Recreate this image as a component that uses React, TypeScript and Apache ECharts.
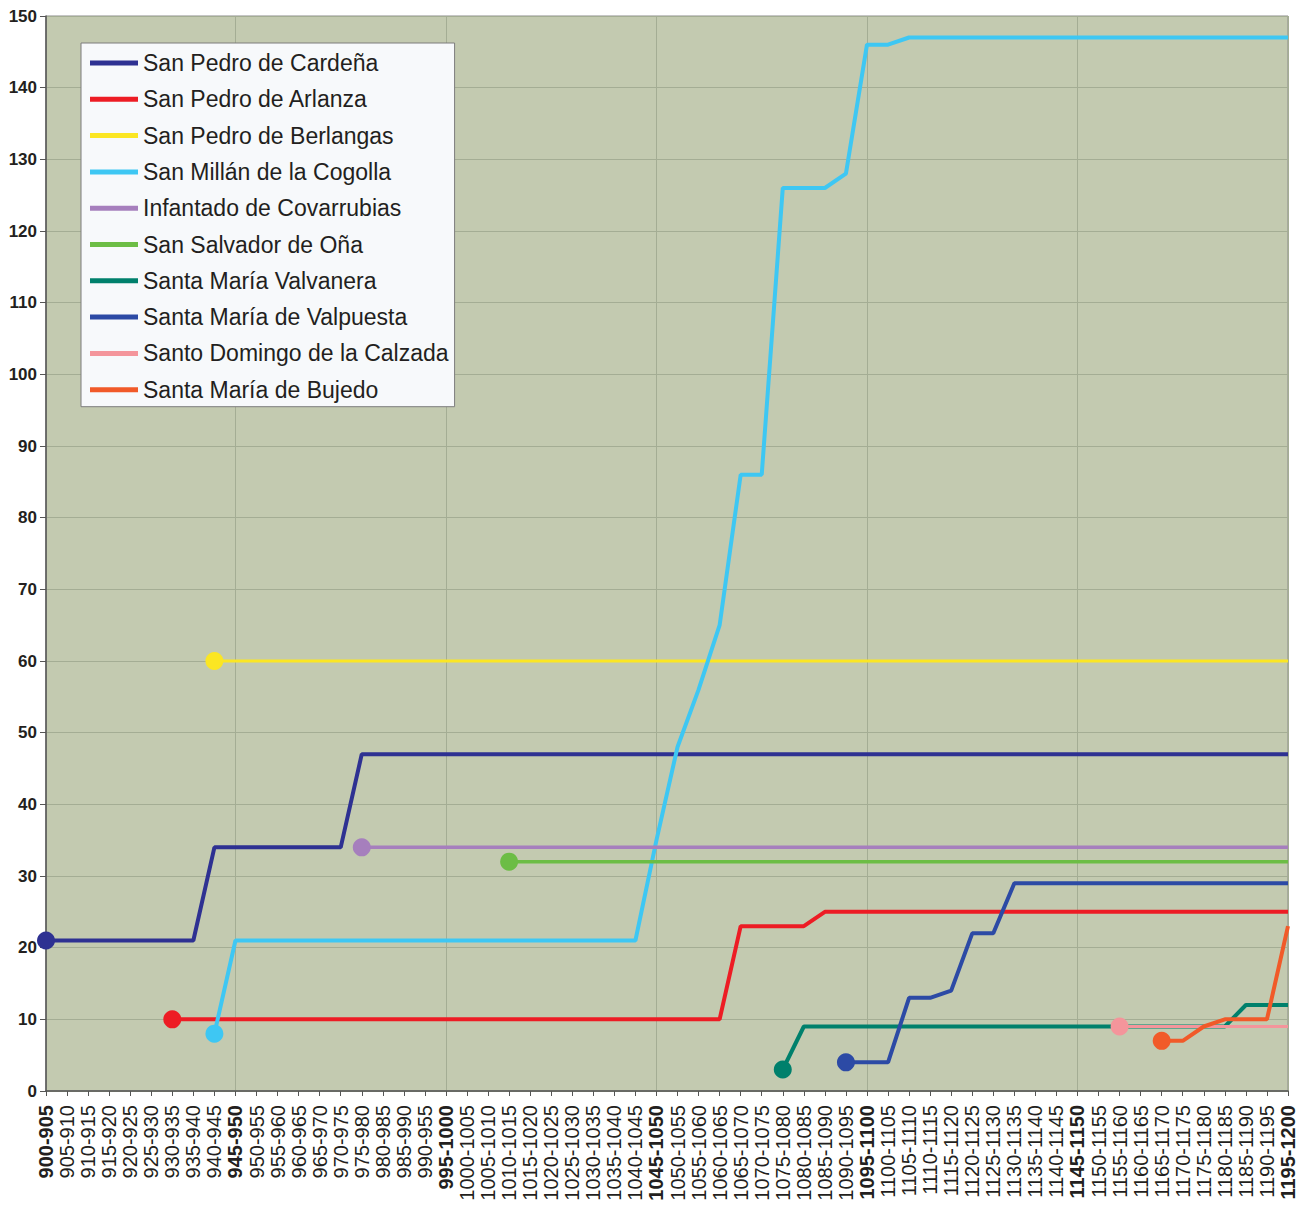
import React, { useEffect, useRef } from "react";
import * as echarts from "echarts";

const categories: string[] = [
  "900-905", "905-910", "910-915", "915-920", "920-925", "925-930", "930-935", "935-940", "940-945", "945-950",
  "950-955", "955-960", "960-965", "965-970", "970-975", "975-980", "980-985", "985-990", "990-955", "995-1000",
  "1000-1005", "1005-1010", "1010-1015", "1015-1020", "1020-1025", "1025-1030", "1030-1035", "1035-1040", "1040-1045", "1045-1050",
  "1050-1055", "1055-1060", "1060-1065", "1065-1070", "1070-1075", "1075-1080", "1080-1085", "1085-1090", "1090-1095", "1095-1100",
  "1100-1105", "1105-1110", "1110-1115", "1115-1120", "1120-1125", "1125-1130", "1130-1135", "1135-1140", "1140-1145", "1145-1150",
  "1150-1155", "1155-1160", "1160-1165", "1165-1170", "1170-1175", "1175-1180", "1180-1185", "1185-1190", "1190-1195", "1195-1200",
];

const boldLabels: string[] = ["900-905", "945-950", "995-1000", "1045-1050", "1095-1100", "1145-1150", "1195-1200"];
const gridLabels: string[] = ["945-950", "995-1000", "1045-1050", "1095-1100", "1145-1150", "1195-1200"];

const _ = null;

const cardena = [
  21, 21, 21, 21, 21, 21, 21, 21, 34, 34, 34, 34, 34, 34, 34,
  47, 47, 47, 47, 47, 47, 47, 47, 47, 47, 47, 47, 47, 47, 47,
  47, 47, 47, 47, 47, 47, 47, 47, 47, 47, 47, 47, 47, 47, 47,
  47, 47, 47, 47, 47, 47, 47, 47, 47, 47, 47, 47, 47, 47, 47,
];
const arlanza = [
  _, _, _, _, _, _, 10, 10, 10, 10, 10, 10, 10, 10, 10,
  10, 10, 10, 10, 10, 10, 10, 10, 10, 10, 10, 10, 10, 10, 10,
  10, 10, 10, 23, 23, 23, 23, 25, 25, 25, 25, 25, 25, 25, 25,
  25, 25, 25, 25, 25, 25, 25, 25, 25, 25, 25, 25, 25, 25, 25,
];
const berlangas = [
  _, _, _, _, _, _, _, _, 60, 60, 60, 60, 60, 60, 60,
  60, 60, 60, 60, 60, 60, 60, 60, 60, 60, 60, 60, 60, 60, 60,
  60, 60, 60, 60, 60, 60, 60, 60, 60, 60, 60, 60, 60, 60, 60,
  60, 60, 60, 60, 60, 60, 60, 60, 60, 60, 60, 60, 60, 60, 60,
];
const cogolla = [
  _, _, _, _, _, _, _, _, 8, 21, 21, 21, 21, 21, 21,
  21, 21, 21, 21, 21, 21, 21, 21, 21, 21, 21, 21, 21, 21, 35,
  48, 56, 65, 86, 86, 126, 126, 126, 128, 146, 146, 147, 147, 147, 147,
  147, 147, 147, 147, 147, 147, 147, 147, 147, 147, 147, 147, 147, 147, 147,
];
const covarrubias = [
  _, _, _, _, _, _, _, _, _, _, _, _, _, _, _,
  34, 34, 34, 34, 34, 34, 34, 34, 34, 34, 34, 34, 34, 34, 34,
  34, 34, 34, 34, 34, 34, 34, 34, 34, 34, 34, 34, 34, 34, 34,
  34, 34, 34, 34, 34, 34, 34, 34, 34, 34, 34, 34, 34, 34, 34,
];
const ona = [
  _, _, _, _, _, _, _, _, _, _, _, _, _, _, _,
  _, _, _, _, _, _, _, 32, 32, 32, 32, 32, 32, 32, 32,
  32, 32, 32, 32, 32, 32, 32, 32, 32, 32, 32, 32, 32, 32, 32,
  32, 32, 32, 32, 32, 32, 32, 32, 32, 32, 32, 32, 32, 32, 32,
];
const valvanera = [
  _, _, _, _, _, _, _, _, _, _, _, _, _, _, _,
  _, _, _, _, _, _, _, _, _, _, _, _, _, _, _,
  _, _, _, _, _, 3, 9, 9, 9, 9, 9, 9, 9, 9, 9,
  9, 9, 9, 9, 9, 9, 9, 9, 9, 9, 9, 9, 12, 12, 12,
];
const valpuesta = [
  _, _, _, _, _, _, _, _, _, _, _, _, _, _, _,
  _, _, _, _, _, _, _, _, _, _, _, _, _, _, _,
  _, _, _, _, _, _, _, _, 4, 4, 4, 13, 13, 14, 22,
  22, 29, 29, 29, 29, 29, 29, 29, 29, 29, 29, 29, 29, 29, 29,
];
const calzada = [
  _, _, _, _, _, _, _, _, _, _, _, _, _, _, _,
  _, _, _, _, _, _, _, _, _, _, _, _, _, _, _,
  _, _, _, _, _, _, _, _, _, _, _, _, _, _, _,
  _, _, _, _, _, _, 9, 9, 9, 9, 9, 9, 9, 9, 9,
];
const bujedo = [
  _, _, _, _, _, _, _, _, _, _, _, _, _, _, _,
  _, _, _, _, _, _, _, _, _, _, _, _, _, _, _,
  _, _, _, _, _, _, _, _, _, _, _, _, _, _, _,
  _, _, _, _, _, _, _, _, 7, 7, 9, 10, 10, 10, 23,
];

const seriesNames: string[] = [
  "San Pedro de Cardeña",
  "San Pedro de Arlanza",
  "San Pedro de Berlangas",
  "San Millán de la Cogolla",
  "Infantado de Covarrubias",
  "San Salvador de Oña",
  "Santa María Valvanera",
  "Santa María de Valpuesta",
  "Santo Domingo de la Calzada",
  "Santa María de Bujedo",
];
const seriesData = [cardena, arlanza, berlangas, cogolla, covarrubias, ona, valvanera, valpuesta, calzada, bujedo];
const seriesColors: string[] = [
  "#2e3192", "#ed1c24", "#fbe623", "#3ec7f3", "#a67fbd",
  "#6cbd45", "#00806c", "#2c4aa5", "#f4959b", "#f15a29",
];
const lineWidths: number[] = [4, 4, 3, 4, 3.5, 3.5, 4, 4, 3, 4];

const FONT = "'Liberation Sans', Arial, Helvetica, sans-serif";
const TEXT = "#231f20";

export default function App() {
  const ref = useRef<HTMLDivElement>(null);

  useEffect(() => {
    if (!ref.current) return;
    const chart = echarts.init(ref.current, undefined, { renderer: "svg" });

    const series = seriesNames.map((name, k) => {
      const data = seriesData[k];
      const start = data.findIndex((v) => v !== null);
      return {
        name,
        type: "line",
        data,
        color: seriesColors[k],
        lineStyle: { width: lineWidths[k], color: seriesColors[k] },
        itemStyle: { color: seriesColors[k] },
        symbol: "circle",
        showSymbol: true,
        showAllSymbol: true,
        symbolSize: (_v: any, p: any) => (p.dataIndex === start ? 18 : 0),
        emphasis: { disabled: true },
        connectNulls: false,
      };
    });

    chart.setOption({
      animation: false,
      backgroundColor: "#ffffff",
      textStyle: { fontFamily: FONT },
      grid: {
        left: 46,
        right: 18,
        top: 16,
        bottom: 118,
        show: true,
        backgroundColor: "#c3cab0",
        borderColor: "#8a8a8a",
        borderWidth: 1,
      },
      legend: {
        show: true,
        orient: "vertical",
        left: 81,
        top: 43,
        padding: [7, 6, 4, 9],
        itemGap: 10.3,
        itemWidth: 48,
        itemHeight: 5,
        itemTextGap: 7,
        icon: "rect",
        backgroundColor: "#f7f9fb",
        borderColor: "#7d7d7d",
        borderWidth: 1,
        borderRadius: 0,
        textStyle: { fontSize: 23, lineHeight: 26, color: TEXT, fontFamily: FONT },
        data: seriesNames,
      },
      xAxis: {
        type: "category",
        boundaryGap: false,
        data: categories,
        axisLine: { show: true, lineStyle: { color: "#555555", width: 1.5 } },
        axisTick: { show: true, interval: 0, length: 5, lineStyle: { color: "#555555" } },
        axisLabel: {
          interval: 0,
          rotate: 90,
          margin: 14,
          fontSize: 20,
          color: TEXT,
          fontFamily: FONT,
          formatter: (v: string) => (boldLabels.includes(v) ? `{b|${v}}` : v),
          rich: { b: { fontWeight: "bold", fontSize: 20, color: TEXT, fontFamily: FONT } },
        },
        splitLine: {
          show: true,
          interval: (_i: number, v: string) => gridLabels.includes(v),
          lineStyle: { color: "#a4ad94", width: 1 },
        },
      },
      yAxis: {
        type: "value",
        min: 0,
        max: 150,
        interval: 10,
        axisLine: { show: true, lineStyle: { color: "#555555", width: 1.5 } },
        axisTick: { show: true, length: 6, lineStyle: { color: "#555555" } },
        axisLabel: { fontSize: 17, fontWeight: "bold", color: TEXT, margin: 9, fontFamily: FONT },
        splitLine: { show: true, lineStyle: { color: "#a4ad94", width: 1 } },
      },
      series,
    });

    return () => chart.dispose();
  }, []);

  return (
    <div
      ref={ref}
      style={{ position: "absolute", left: 0, top: 0, width: 1306, height: 1209 }}
    />
  );
}
